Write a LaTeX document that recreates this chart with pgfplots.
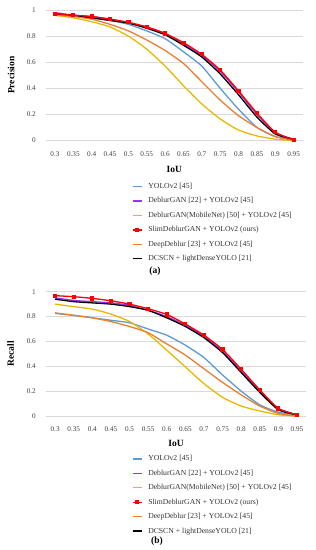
\documentclass[border=0pt]{standalone}
\usepackage{pgfplots}
\pgfplotsset{compat=1.18}
\usepackage{fontspec}
\setmainfont{Liberation Serif}
\definecolor{cblue}{HTML}{5B9BD5}
\definecolor{cpurple}{HTML}{9933FF}
\definecolor{cyellow}{HTML}{EBB800}
\definecolor{cred}{HTML}{FF0000}
\definecolor{corange}{HTML}{ED7D31}
\definecolor{cgrid}{HTML}{D9D9D9}

\pgfplotstableread{
x  blue  purple yellow red  orange black
0  0.97  0.98   0.96   0.97 0.96   0.97
1  0.96  0.96   0.94   0.96 0.95   0.96
2  0.94  0.95   0.91   0.95 0.93   0.94
3  0.92  0.93   0.87   0.93 0.89   0.92
4  0.89  0.90   0.80   0.906 0.84  0.90
5  0.84  0.87   0.70   0.87 0.77   0.86
6  0.78  0.82   0.57   0.82 0.69   0.81
7  0.68  0.74   0.42   0.75 0.59   0.73
8  0.57  0.65   0.28   0.66 0.45   0.64
9  0.40  0.53   0.165  0.54 0.31   0.51
10 0.24  0.37   0.08   0.38 0.19   0.35
11 0.10  0.20   0.035  0.21 0.10   0.18
12 0.03  0.06   0.01   0.064 0.03  0.05
13 0.01  0.01   0.0    0.005 0.0   0.01
}\precisiontable

\pgfplotstableread{
x  blue  purple yellow red  orange black
0  0.825 0.95   0.90   0.968 0.83  0.94
1  0.81  0.93   0.88   0.96  0.81  0.92
2  0.79  0.92   0.86   0.946 0.79  0.91
3  0.77  0.91   0.82   0.927 0.76  0.90
4  0.75  0.89   0.76   0.90  0.72  0.88
5  0.70  0.85   0.66   0.863 0.67  0.85
6  0.65  0.80   0.53   0.817 0.58  0.79
7  0.57  0.73   0.395  0.74  0.49  0.72
8  0.47  0.64   0.26   0.65  0.38  0.63
9  0.33  0.52   0.15   0.535 0.27  0.51
10 0.20  0.36   0.08   0.376 0.17  0.35
11 0.09  0.20   0.04   0.21  0.08  0.19
12 0.03  0.06   0.01   0.06  0.02  0.05
13 0.01  0.01   0.0    0.01  0.0   0.01
}\recalltable

\pgfplotsset{
  excel/.style={
    scale only axis,
    xmin=-0.5, xmax=13.5, ymin=0, ymax=1,
    xtick={0,...,13},
    xticklabels={0.3,0.35,0.4,0.45,0.5,0.55,0.6,0.65,0.7,0.75,0.8,0.85,0.9,0.95},
    ytick={0,0.2,0.4,0.6,0.8,1},
    yticklabels={0,0.2,0.4,0.6,0.8,1},
    axis lines*=left,
    x axis line style={cgrid, line width=0.8pt, -},
    y axis line style={draw=none, -},
    ymajorgrids, major grid style={cgrid, line width=0.8pt},
    major tick length=0pt,
    tick label style={font=\fontsize{7.2}{8}\selectfont, text=black!75},
    xticklabel style={yshift=-7.5pt},
    yticklabel style={xshift=-6.5pt},
    label style={font=\fontsize{9.5}{11}\selectfont\bfseries},
    xlabel={IoU},
    legend cell align=left,
    legend style={draw=none, fill=none, font=\fontsize{7.7}{9}\selectfont, text=black!80,
      row sep=3.6pt, inner sep=0pt, anchor=north west,
      /tikz/every odd column/.append style={column sep=4pt}},
    legend image code/.code={\draw[mark repeat=2,mark phase=2,#1] plot coordinates {(0pt,0pt) (4.5pt,0pt) (9pt,0pt)};},
    clip=false,
  }
}

\newcommand{\allplots}[1]{%
  \addplot[forget plot, cblue, line width=1.3pt, smooth, tension=0.35, no marks] table[x=x,y=blue] {#1};
  \addplot[forget plot, cpurple, line width=1.3pt, smooth, tension=0.35, no marks] table[x=x,y=purple] {#1};
  \addplot[forget plot, cyellow, line width=1.3pt, smooth, tension=0.35, no marks] table[x=x,y=yellow] {#1};
  \addplot[forget plot, corange, line width=1.3pt, smooth, tension=0.35, no marks] table[x=x,y=orange] {#1};
  \addplot[forget plot, black, line width=1.3pt, smooth, tension=0.35, no marks] table[x=x,y=black] {#1};
  \addplot[forget plot, cred, line width=1.3pt, smooth, tension=0.35, mark=square*, mark size=1.6pt, mark options={solid, line width=0pt}] table[x=x,y=red] {#1};
  \addlegendimage{cblue, line width=1.3pt, no marks}
  \addlegendentry{YOLOv2 [45]}
  \addlegendimage{cpurple, line width=1.3pt, no marks}
  \addlegendentry{DeblurGAN [22] + YOLOv2 [45]}
  \addlegendimage{cyellow, line width=1.3pt, no marks}
  \addlegendentry{DeblurGAN(MobileNet) [50] + YOLOv2 [45]}
  \addlegendimage{cred, line width=1.3pt, mark=square*, mark size=1.4pt, mark options={solid, line width=0pt}}
  \addlegendentry{SlimDeblurGAN + YOLOv2 (ours)}
  \addlegendimage{corange, line width=1.3pt, no marks}
  \addlegendentry{DeepDeblur [23] + YOLOv2 [45]}
  \addlegendimage{black, line width=1.3pt, no marks}
  \addlegendentry{DCSCN + lightDenseYOLO [21]}
}

\begin{document}
\begin{tikzpicture}
\path[use as bounding box] (0pt,0pt) rectangle (316pt,550pt);

\begin{axis}[excel,
  width=257pt, height=130.5pt,
  at={(45.8pt,409.5pt)}, anchor=south west,
  ylabel={Precision},
  ylabel style={at={(axis description cs:-0.135,0.5)}, anchor=center},
  xlabel style={at={(axis description cs:0.5,-0.222)}, anchor=center},
  legend style={at={(axis description cs:0.335,-0.31)}},
]
\allplots{\precisiontable}
\end{axis}
\node[font=\fontsize{9.5}{11}\selectfont\bfseries] at (155pt,279pt) {(a)};

\begin{axis}[excel,
  width=260.5pt, height=124.3pt,
  at={(45.8pt,134pt)}, anchor=south west,
  ylabel={Recall},
  ylabel style={at={(axis description cs:-0.135,0.5)}, anchor=center},
  xlabel style={at={(axis description cs:0.5,-0.22)}, anchor=center},
  legend style={at={(axis description cs:0.33,-0.3)}},
]
\allplots{\recalltable}
\end{axis}
\node[font=\fontsize{9.5}{11}\selectfont\bfseries] at (157pt,8.5pt) {(b)};
\end{tikzpicture}
\end{document}
